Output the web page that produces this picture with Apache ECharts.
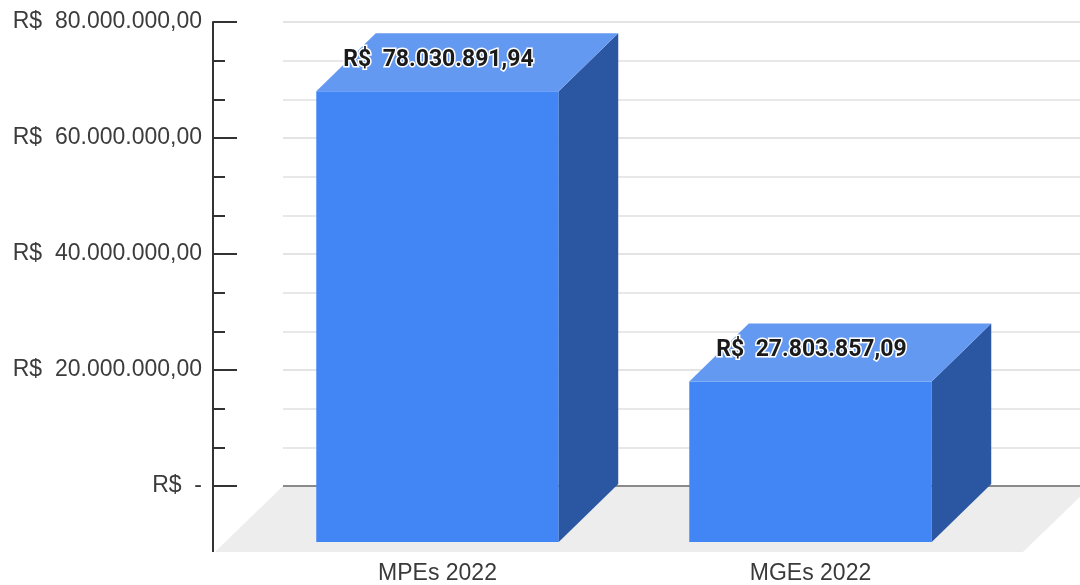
<!DOCTYPE html>
<html><head><meta charset="utf-8">
<script src="https://cdn.jsdelivr.net/npm/echarts@6/dist/echarts.min.js"></script>
<style>html,body{margin:0;padding:0;background:#fff}#c{width:1080px;height:585px}</style>
</head><body><div id="c"></div>
<script>
// ---- data ----
const categories = ['MPEs 2022', 'MGEs 2022'];
const values = [78030891.94, 27803857.09];
const yTicks = [0, 20000000, 40000000, 60000000, 80000000];

// ---- style constants ----
const FRONT = '#4285f4', TOP = '#6499f2', SIDE = '#2b56a1';
const DEPTH = [59.5, -58];        // bar depth (back = front + DEPTH)
const FLOOR_DEPTH = [-68, 66];    // floor (front = back + FLOOR_DEPTH)
const AXIS_OFFSET = 70;

function fmt(v) {
  const parts = v.toFixed(2).split('.');
  return parts[0].replace(/\B(?=(\d{3})+(?!\d))/g, '.') + ',' + parts[1];
}

const yMin = yTicks[0], yMax = yTicks[yTicks.length - 1], yInt = yTicks[1] - yTicks[0];

function renderFloor(params, api) {
  const cs = params.coordSys;
  const y0 = api.coord([0, 0])[1];
  const xL = cs.x, xR = cs.x + cs.width + 11;
  return {
    type: 'group',
    children: [
      { type: 'polygon', shape: { points: [[xL, y0], [xR, y0], [xR + FLOOR_DEPTH[0], y0 + FLOOR_DEPTH[1]], [xL + FLOOR_DEPTH[0], y0 + FLOOR_DEPTH[1]]] },
        style: { fill: '#ededed' } },
      { type: 'line', shape: { x1: cs.x - AXIS_OFFSET, y1: y0 - 1, x2: cs.x - AXIS_OFFSET, y2: y0 + FLOOR_DEPTH[1] },
        style: { stroke: '#333', lineWidth: 2 } }
    ]
  };
}

function renderBar(params, api) {
  const i = api.value(0), v = api.value(1);
  const base = api.coord([i, 0]);
  const top = api.coord([i, v]);
  const w = api.size([1, 0])[0] * 0.65;
  const x0 = base[0] - w / 2, x1 = base[0] + w / 2;
  const yb = base[1], yt = top[1];
  const dx = DEPTH[0], dy = DEPTH[1];
  return {
    type: 'group',
    children: [
      { type: 'rect', shape: { x: x0, y: yt, width: w, height: yb - yt }, style: { fill: FRONT } },
      { type: 'polygon', shape: { points: [[x1, yt], [x1, yb], [x1 + dx, yb + dy], [x1 + dx, yt + dy]] }, style: { fill: SIDE } },
      { type: 'polygon', shape: { points: [[x0, yt], [x1, yt], [x1 + dx, yt + dy], [x0 + dx, yt + dy]] }, style: { fill: TOP } },
      { type: 'text', x: x0 + 27, y: yt - 31,
        style: { text: 'R$  ' + fmt(v), fill: '#1a1a1a', fontFamily: 'Roboto', fontWeight: 'bold', fontSize: 23,
                 stroke: '#ffffff', lineWidth: 3, align: 'left', verticalAlign: 'middle' } }
    ]
  };
}

const chart = echarts.init(document.getElementById('c'), null, { renderer: 'canvas' });
chart.setOption({
  animation: false,
  backgroundColor: '#ffffff',
  grid: [
    { left: 283, right: 0, top: 22, bottom: 99 },   // back wall
    { left: 251, right: 83, top: 80, bottom: 41 }   // bar fronts
  ],
  xAxis: [
    { gridIndex: 0, type: 'category', data: categories, show: false },
    { gridIndex: 1, type: 'category', data: categories,
      axisLine: { show: false }, axisTick: { show: false },
      axisLabel: { margin: 20, fontSize: 23, color: '#3a3a3a', fontFamily: 'Liberation Sans, Arial' } }
  ],
  yAxis: [
    { gridIndex: 0, type: 'value', min: yMin, max: yMax, interval: yInt, offset: AXIS_OFFSET,
      axisLine: { show: true, lineStyle: { color: '#333', width: 2 } },
      axisTick: { show: true, inside: true, length: 24, lineStyle: { color: '#333', width: 2 } },
      minorTick: { show: true, splitNumber: 3, length: 12, lineStyle: { color: '#333', width: 2 } },
      splitLine: { show: true, lineStyle: { color: ['#8a8a8a', '#e4e4e4', '#e4e4e4', '#e4e4e4', '#e4e4e4'], width: 2 } },
      minorSplitLine: { show: true, lineStyle: { color: '#e8e8e8', width: 2 } },
      axisLabel: { margin: 11, fontSize: 23, color: '#3c3c3c', fontFamily: 'Liberation Sans, Arial',
        formatter: function (v) { return v === 0 ? 'R$  -' : 'R$  ' + fmt(v); } } },
    { gridIndex: 1, type: 'value', min: yMin, max: yMax, interval: yInt, show: false }
  ],
  series: [
    { type: 'custom', xAxisIndex: 0, yAxisIndex: 0, z: -1, clip: false, silent: true,
      renderItem: renderFloor, data: [[0, 0]] },
    { type: 'custom', xAxisIndex: 1, yAxisIndex: 1, z: 3, clip: false,
      renderItem: renderBar, data: values.map(function (v, i) { return [i, v]; }) }
  ]
});
</script>
</body></html>
